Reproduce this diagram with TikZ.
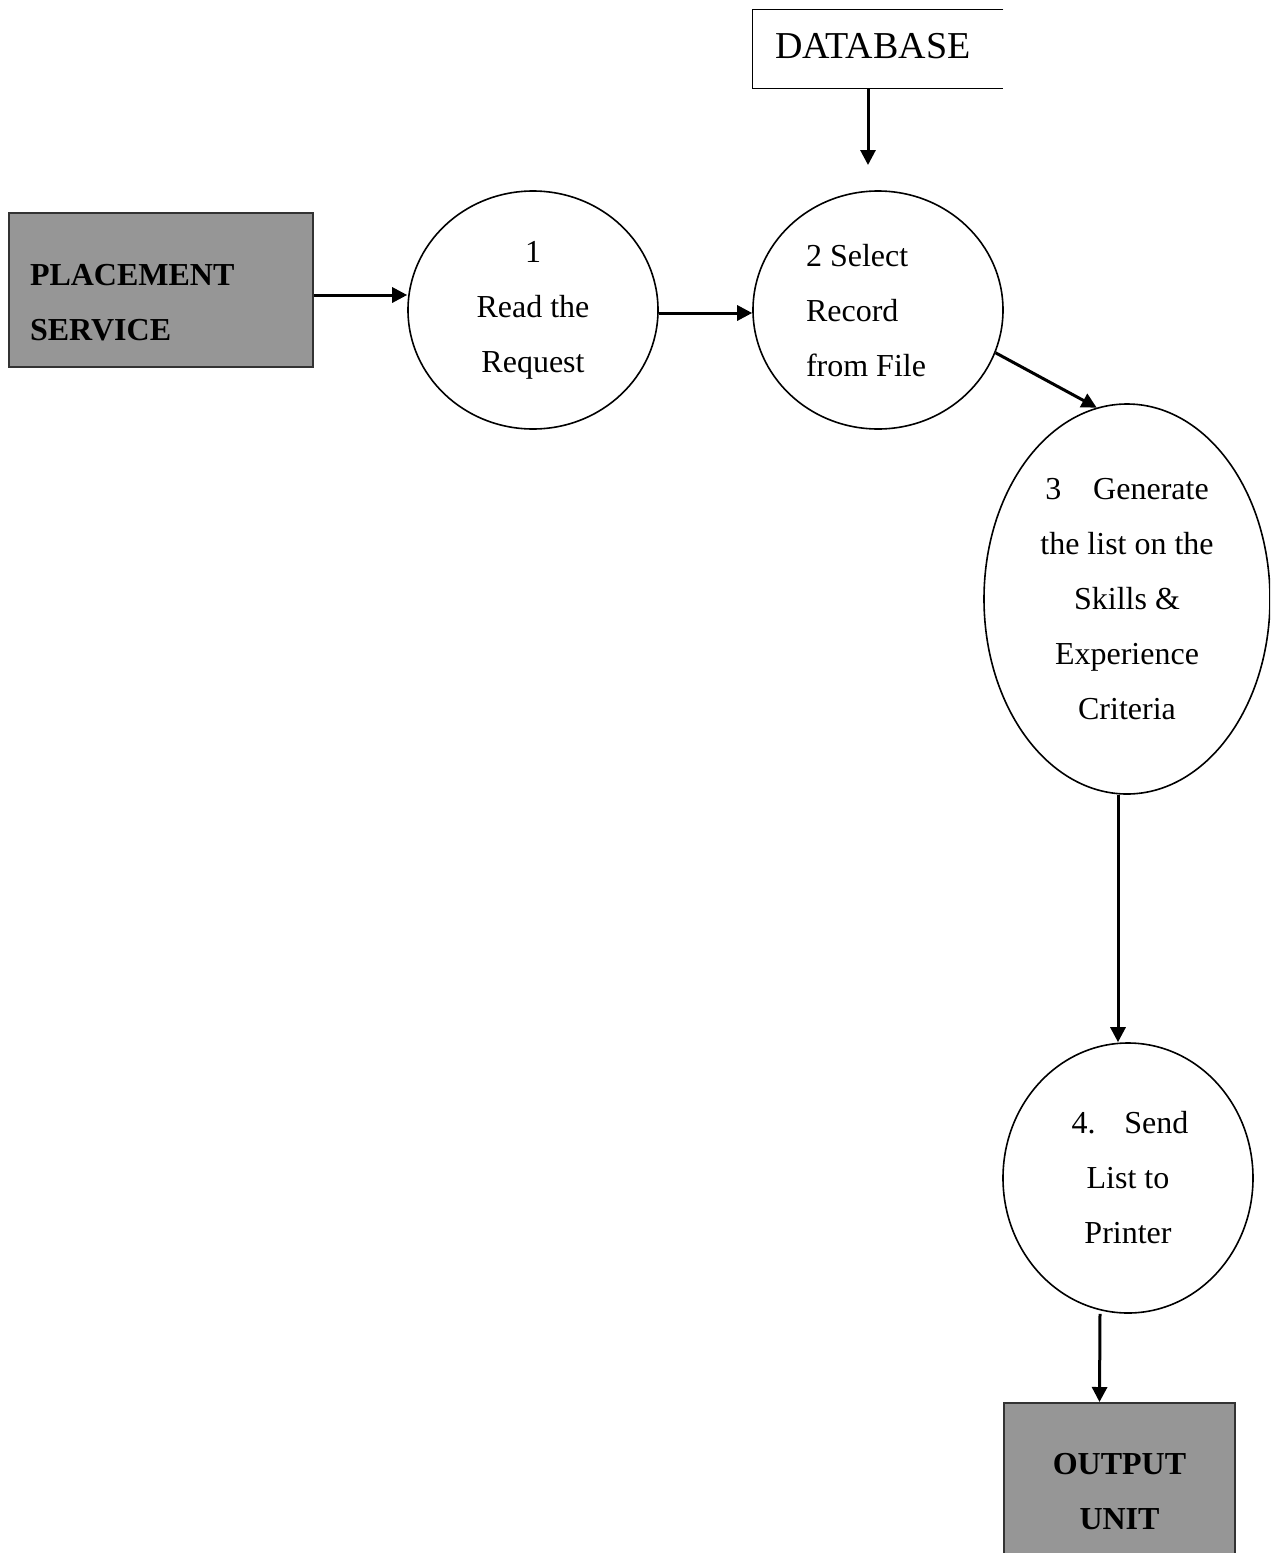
\documentclass[tikz,border=0pt]{standalone}
\usepackage{fontspec}
\setmainfont{Liberation Serif}
\usepackage{tikz}
\usetikzlibrary{arrows.meta,positioning}
\usetikzlibrary{calc}
\usetikzlibrary{shapes.geometric}

\begin{document}
\begin{tikzpicture}[x=0.5pt, y=-0.5pt,
    entity/.style = {rectangle, draw = black!80, line width = 1pt, fill = black!41, inner sep = 0, font = \fontsize{16}{27.5}\selectfont\bfseries},
    process/.style = {ellipse, draw, line width = 0.8pt, inner sep = 0, align = center, font = \fontsize{16}{27.5}\selectfont},
    flow/.style = {line width = 1.5pt, -{Triangle[length=7.5pt, width=7.5pt]}}]

        % fix the page size
        \useasboundingbox (0,0) rectangle (1270,1553);
        \clip (0,0) rectangle (1270,1553);

        % draw the external entities
        \node[entity, minimum width = 152pt, minimum height = 77pt, text width = 131pt, align = left] (placement) at (161,290) {\rule{0pt}{23pt}PLACEMENT\\SERVICE};
        \node[entity, minimum width = 115.5pt, minimum height = 88.5pt, align = center] (output_unit) at (1119.5,1491.5) {OUTPUT\\UNIT};

        % draw the data store (open on the right)
        \node[rectangle, minimum width = 125pt, minimum height = 39pt, text width = 125pt, align = left, inner sep = 0, font = \fontsize{19}{21}\selectfont] (database) at (878,49) {\hspace{11pt}DATABASE\rule[-3pt]{0pt}{0pt}};
        \draw[line width = 0.8pt] (database.north east) -- (database.north west) -- (database.south west) -- (database.south east);
        \coordinate (db_end) at (868,165);

        % draw the processes
        \node[process, minimum width = 125pt, minimum height = 119pt] (read_req) at (533,310) {1\\Read the\\Request};
        \node[process, minimum width = 125pt, minimum height = 119pt] (select_rec) at (878,310) {\begin{tabular}{@{}l@{}}2 Select\\Record\\from File\end{tabular}\hspace{12pt}};
        \node[process, minimum width = 143pt, minimum height = 195pt] (gen_list) at (1127,599) {3\quad Generate\\the list on the\\Skills \&\\Experience\\Criteria};
        \node[process, minimum width = 125pt, minimum height = 135pt] (send_list) at (1128,1178) {\hspace{2pt}4.\hspace{9pt} Send\\List to\\Printer};

        % draw the arrows
        \draw[flow] ([yshift=-2.5pt]placement.east) -- ([yshift=-2.5pt]placement.east -| read_req.west);
        \draw[flow] ([yshift=-1.5pt]read_req.east) -- ([yshift=-1.5pt]select_rec.west);
        \draw[flow] (database.south -| db_end) -- (db_end);
        \draw[flow] (select_rec.-20) -- (gen_list.99);
        \draw[flow] ([xshift=-4.5pt]gen_list.south) -- ([xshift=-5pt]send_list.north);
        \draw[flow] ([xshift=-14pt]send_list.south) -- ([xshift=-10pt]output_unit.north);

\end{tikzpicture}
\end{document}
